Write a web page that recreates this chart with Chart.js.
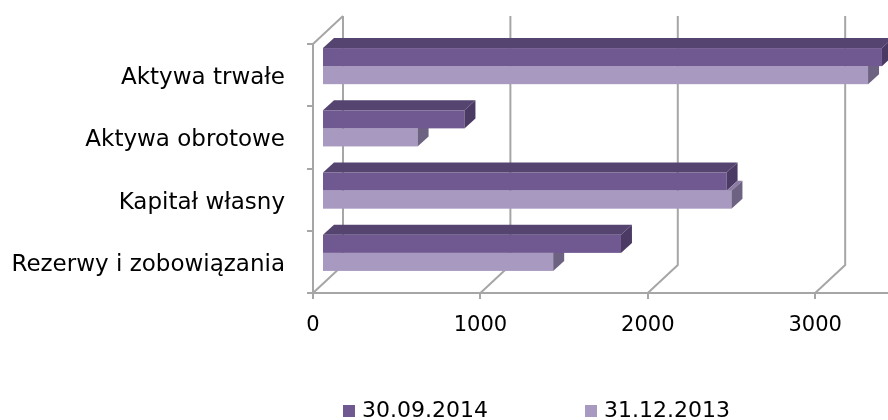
<!DOCTYPE html>
<html lang="pl">
<head>
<meta charset="utf-8">
<title>Aktywa i pasywa</title>
<script src="https://cdn.jsdelivr.net/npm/chart.js@4.4.1/dist/chart.umd.min.js"></script>
<style>
  html, body { margin: 0; padding: 0; background: #fff; }
  canvas { display: block; }
</style>
</head>
<body>
<canvas id="chart" width="888" height="420"></canvas>
<script>
const categories = ['Aktywa trwałe', 'Aktywa obrotowe', 'Kapitał własny', 'Rezerwy i zobowiązania'];
const seriesLabels = ['30.09.2014', '31.12.2013'];
const values2014 = [3345, 851, 2417, 1786];
const values2013 = [3262, 571, 2446, 1381];
const xTicks = [0, 1000, 2000, 3000];
const xMax = 3435;

// face colours of the 3D bars
const faceColors = [
    { front: '#705890', top: '#554470', side: '#4b3a64' },
    { front: '#a899c0', top: '#8c7ca6', side: '#6e6282' }
];
const FRAME = '#a6a6a6';
const FONT = "'DejaVu Sans', sans-serif";

// depth offsets: back wall, bar front plane and bar thickness
const WALL = { dx: 30, dy: -28 };
const BAR_SHIFT = { dx: 9, dy: -9 };
const BAR_DEPTH = { dx: 11, dy: -10 };

function poly(ctx, color, pts) {
    ctx.fillStyle = color;
    ctx.beginPath();
    ctx.moveTo(pts[0][0], pts[0][1]);
    pts.slice(1).forEach(p => ctx.lineTo(p[0], p[1]));
    ctx.closePath();
    ctx.fill();
}

function drawBar(ctx, p, col, above) {
    const x0 = p.base + BAR_SHIFT.dx;
    const x1 = p.x + BAR_SHIFT.dx;
    const y0 = p.y - p.height / 2 + BAR_SHIFT.dy;
    const y1 = p.y + p.height / 2 + BAR_SHIFT.dy;
    const dx = BAR_DEPTH.dx, dy = BAR_DEPTH.dy;

    ctx.fillStyle = col.front;
    ctx.fillRect(x0, y0, x1 - x0, y1 - y0);

    // top face, only the part not covered by the bar sitting above
    const tx = above ? Math.max(x0, above.x + BAR_SHIFT.dx) : x0;
    if (tx < x1) {
        poly(ctx, col.top, [[tx, y0], [x1, y0], [x1 + dx, y0 + dy], [tx + dx, y0 + dy]]);
    }
    poly(ctx, col.side, [[x1, y0], [x1, y1], [x1 + dx, y1 + dy], [x1 + dx, y0 + dy]]);
}

function drawBars(chart) {
    const ctx = chart.ctx;
    const metas = chart.data.datasets.map((d, i) => chart.getDatasetMeta(i));
    categories.forEach((c, j) => {
        const bars = metas.map((m, i) => ({
            p: m.data[j].getProps(['x', 'y', 'base', 'height'], true),
            i: i
        }));
        const byY = bars.slice().sort((a, b) => a.p.y - b.p.y);
        // paint shorter bars first so longer ends stay in front
        bars.slice().sort((a, b) => a.p.x - b.p.x).forEach(b => {
            const k = byY.indexOf(b);
            const above = k > 0 ? byY[k - 1].p : null;
            drawBar(ctx, b.p, faceColors[b.i], above);
        });
    });
}

function drawLegend(chart) {
    const ctx = chart.ctx;
    const itemX = [343, 585];
    ctx.save();
    ctx.font = '22px ' + FONT;
    ctx.textBaseline = 'middle';
    chart.data.datasets.forEach((d, i) => {
        ctx.fillStyle = d.backgroundColor;
        ctx.fillRect(itemX[i], 405, 12, 12);
        ctx.fillStyle = '#000';
        ctx.fillText(d.label, itemX[i] + 19, 411);
    });
    ctx.restore();
}

const frame3d = {
    id: 'frame3d',
    beforeDatasetsDraw(chart) {
        const ctx = chart.ctx;
        const area = chart.chartArea;
        const xs = chart.scales.x;

        ctx.save();
        ctx.strokeStyle = FRAME;
        ctx.lineWidth = 2;
        ctx.beginPath();
        // top edge of the left wall
        ctx.moveTo(area.left, area.top);
        ctx.lineTo(area.left + WALL.dx, area.top + WALL.dy);
        // floor diagonals and back wall gridlines
        xs.ticks.forEach(t => {
            const x = xs.getPixelForValue(t.value);
            ctx.moveTo(x, area.bottom);
            ctx.lineTo(x + WALL.dx, area.bottom + WALL.dy);
            ctx.lineTo(x + WALL.dx, area.top + WALL.dy);
        });
        ctx.stroke();
        ctx.restore();

        drawBars(chart);
        return false;
    },
    afterDraw(chart) {
        drawLegend(chart);
    }
};

new Chart(document.getElementById('chart'), {
    type: 'bar',
    data: {
        labels: categories,
        datasets: [
            { label: seriesLabels[0], data: values2014, backgroundColor: faceColors[0].front },
            { label: seriesLabels[1], data: values2013, backgroundColor: faceColors[1].front }
        ]
    },
    options: {
        indexAxis: 'y',
        responsive: false,
        animation: false,
        categoryPercentage: 0.58,
        barPercentage: 1,
        layout: { padding: { top: 44, right: 0, bottom: 0, left: 0 } },
        plugins: {
            legend: { display: false },
            tooltip: { enabled: false }
        },
        scales: {
            x: {
                min: 0,
                max: xMax,
                afterBuildTicks: s => { s.ticks = xTicks.map(v => ({ value: v })); },
                afterFit: s => { s.height = 127; },
                grid: { drawOnChartArea: false, tickLength: 6, color: FRAME, lineWidth: 2 },
                border: { color: FRAME, width: 2 },
                ticks: {
                    font: { family: FONT, size: 21 },
                    color: '#000',
                    padding: 14,
                    maxRotation: 0,
                    callback: v => String(v)
                }
            },
            y: {
                afterFit: s => { s.width = 313; },
                grid: { offset: true, drawOnChartArea: false, tickLength: 6, color: FRAME, lineWidth: 2 },
                border: { color: FRAME, width: 2 },
                ticks: {
                    font: { family: FONT, size: 23 },
                    color: '#000',
                    padding: 22,
                    labelOffset: 3
                }
            }
        }
    },
    plugins: [frame3d]
});
</script>
</body>
</html>
